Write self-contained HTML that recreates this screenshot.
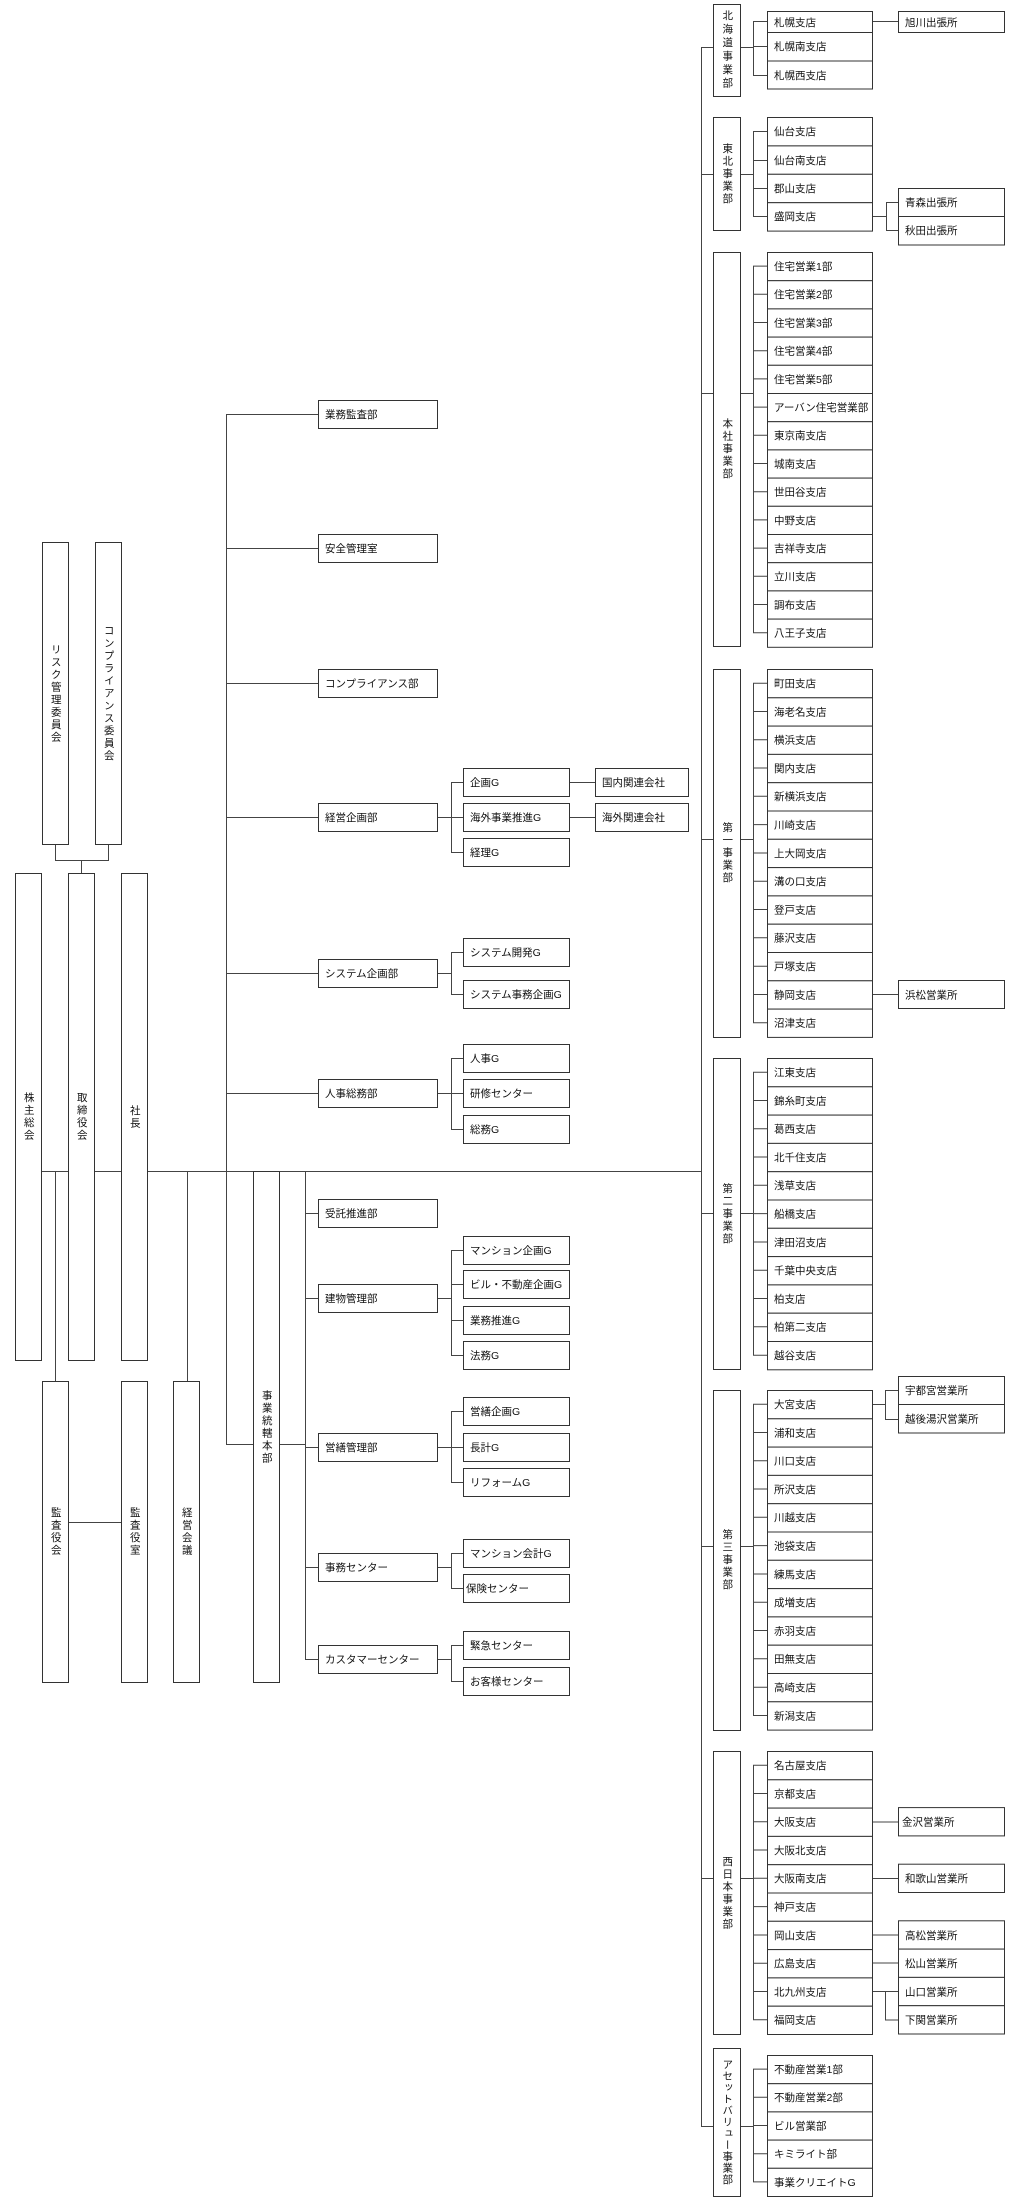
<!DOCTYPE html>
<html><head><meta charset="utf-8"><style>
html,body{margin:0;padding:0;background:#fff;}
#w{position:relative;width:1023px;height:2200px;overflow:hidden;font-family:"Liberation Sans","Noto Sans CJK JP",sans-serif;}
svg{position:absolute;left:0;top:0;}
svg text{font-family:"Liberation Sans","Noto Sans CJK JP",sans-serif;font-size:10.5px;fill:#111;}
.v{position:absolute;display:flex;align-items:center;justify-content:center;font-size:10.5px;color:#111;}
.v span{writing-mode:vertical-rl;text-orientation:upright;letter-spacing:2px;line-height:1;}
</style></head><body><div id="w">
<svg width="1023" height="2200" viewBox="0 0 1023 2200">
<g stroke="#444" stroke-width="1" fill="none">
<path d="M55.5 845V860.5H108.5V845M81.5 860V873"/>
<path d="M42 1171.5H701"/>
<path d="M55.5 1171V1381M187.5 1171V1381M68 1522.5H121"/>
<path d="M226.5 414V1444.5H253M279 1444.5H305"/>
<path d="M226 414.5H318M226 548.5H318M226 683.5H318M226 817.5H318M226 973.5H318M226 1093.5H318"/>
<path d="M437 817.5H451.5M451.5 782V852M451 782.5H463M451 817.5H463M451 852.5H463M569 782.5H595M569 817.5H595"/>
<path d="M437 973.5H451.5M451.5 952V994M451 952.5H463M451 994.5H463"/>
<path d="M437 1093.5H451.5M451.5 1058V1129M451 1058.5H463M451 1093.5H463M451 1129.5H463"/>
<path d="M305.5 1171V1659M305 1213.5H318M305 1298.5H318M305 1447.5H318M305 1567.5H318M305 1659.5H318"/>
<path d="M437 1298.5H451.5M451.5 1250V1355M451 1250.5H463M451 1284.5H463M451 1320.5H463M451 1355.5H463"/>
<path d="M437 1447.5H451.5M451.5 1411V1482M451 1411.5H463M451 1447.5H463M451 1482.5H463"/>
<path d="M437 1567.5H451.5M451.5 1553V1588M451 1553.5H463M451 1588.5H463"/>
<path d="M437 1659.5H451.5M451.5 1645V1681M451 1645.5H463M451 1681.5H463"/>
<path d="M701.5 47V2126"/>
<path d="M701 47.5H713M701 174.5H713M701 393.5H713M701 839.5H713M701 1213.5H713M701 1546.5H713M701 1878.5H713M701 2126.5H713"/>
<path d="M740 47.5H753M740 174.5H753M740 393.5H753M740 839.5H753M740 1213.5H753M740 1546.5H753M740 1878.5H753M740 2126.5H753"/>
<path d="M753.5 21V75M753 21.5H767M753 46.5H767M753 75.5H767M872 21.5H898"/>
<path d="M753.5 131V216M753 131.5H767M753 160.5H767M753 188.5H767M753 216.5H767M872 216.5H886.5M886.5 202V231M886 202.5H898M886 230.5H898"/>
<path d="M753.5 266V633"/>
<path d="M753.5 683V1023"/>
<path d="M753.5 1072V1355"/>
<path d="M753.5 1404V1715"/>
<path d="M753.5 1765V2020"/>
<path d="M753.5 2069V2182"/>
<path d="M872 994.5H898"/>
<path d="M872 1404.5H885.5M885.5 1390V1419M885 1390.5H898M885 1419.5H898"/>
<path d="M872 1822H898M872 1878.5H898M872 1935H898M872 1963H898M872 1991.5H898M885.5 1991V2020M885 2020H898"/>
</g>
<g stroke="#444" stroke-width="1">
<path d="M753 266.1H767M753 294.3H767M753 322.5H767M753 350.7H767M753 378.9H767M753 407.1H767M753 435.3H767M753 463.5H767M753 491.7H767M753 519.9H767M753 548.1H767M753 576.3H767M753 604.5H767M753 632.7H767"/>
<path d="M753 683.2H767M753 711.5H767M753 739.8H767M753 768H767M753 796.3H767M753 824.6H767M753 853H767M753 881.2H767M753 909.5H767M753 937.8H767M753 966.2H767M753 994.5H767M753 1022.8H767"/>
<path d="M753 1072.2H767M753 1100.5H767M753 1128.8H767M753 1157H767M753 1185.3H767M753 1213.6H767M753 1242H767M753 1270.2H767M753 1298.5H767M753 1326.8H767M753 1355.2H767"/>
<path d="M753 1404.2H767M753 1432.5H767M753 1460.8H767M753 1489H767M753 1517.3H767M753 1545.6H767M753 1574H767M753 1602.2H767M753 1630.5H767M753 1658.8H767M753 1687.2H767M753 1715.5H767"/>
<path d="M753 1765.2H767M753 1793.5H767M753 1821.8H767M753 1850H767M753 1878.3H767M753 1906.6H767M753 1935H767M753 1963.2H767M753 1991.5H767M753 2019.8H767"/>
<path d="M753 2069.1H767M753 2097.3H767M753 2125.5H767M753 2153.7H767M753 2181.9H767"/>
</g>
<g fill="#fff" stroke="#333" stroke-width="1">
<rect x="42.5" y="542.5" width="26" height="302"/>
<rect x="95.5" y="542.5" width="26" height="302"/>
<rect x="15.5" y="873.5" width="26" height="487"/>
<rect x="68.5" y="873.5" width="26" height="487"/>
<rect x="121.5" y="873.5" width="26" height="487"/>
<rect x="42.5" y="1381.5" width="26" height="301"/>
<rect x="121.5" y="1381.5" width="26" height="301"/>
<rect x="173.5" y="1381.5" width="26" height="301"/>
<rect x="253.5" y="1171.5" width="26" height="511"/>
<rect x="318.5" y="400.5" width="119" height="28"/>
<rect x="318.5" y="534.5" width="119" height="28"/>
<rect x="318.5" y="669.5" width="119" height="28"/>
<rect x="318.5" y="803.5" width="119" height="28"/>
<rect x="318.5" y="959.5" width="119" height="28"/>
<rect x="318.5" y="1079.5" width="119" height="28"/>
<rect x="318.5" y="1199.5" width="119" height="28"/>
<rect x="318.5" y="1284.5" width="119" height="28"/>
<rect x="318.5" y="1433.5" width="119" height="28"/>
<rect x="318.5" y="1553.5" width="119" height="28"/>
<rect x="318.5" y="1645.5" width="119" height="28"/>
<rect x="463.5" y="768.5" width="106" height="28"/>
<rect x="463.5" y="803.5" width="106" height="28"/>
<rect x="463.5" y="838.5" width="106" height="28"/>
<rect x="595.5" y="768.5" width="93" height="28"/>
<rect x="595.5" y="803.5" width="93" height="28"/>
<rect x="463.5" y="938.5" width="106" height="28"/>
<rect x="463.5" y="980.5" width="106" height="28"/>
<rect x="463.5" y="1044.5" width="106" height="28"/>
<rect x="463.5" y="1079.5" width="106" height="28"/>
<rect x="463.5" y="1115.5" width="106" height="28"/>
<rect x="463.5" y="1236.5" width="106" height="28"/>
<rect x="463.5" y="1270.5" width="106" height="28"/>
<rect x="463.5" y="1306.5" width="106" height="28"/>
<rect x="463.5" y="1341.5" width="106" height="28"/>
<rect x="463.5" y="1397.5" width="106" height="28"/>
<rect x="463.5" y="1433.5" width="106" height="28"/>
<rect x="463.5" y="1468.5" width="106" height="28"/>
<rect x="463.5" y="1539.5" width="106" height="28"/>
<rect x="463.5" y="1574.5" width="106" height="28"/>
<rect x="463.5" y="1631.5" width="106" height="28"/>
<rect x="463.5" y="1667.5" width="106" height="28"/>
<rect x="713.5" y="4.5" width="27" height="92"/>
<rect x="713.5" y="117.5" width="27" height="113"/>
<rect x="713.5" y="252.5" width="27" height="394"/>
<rect x="713.5" y="669.5" width="27" height="368"/>
<rect x="713.5" y="1058.5" width="27" height="311"/>
<rect x="713.5" y="1390.5" width="27" height="340"/>
<rect x="713.5" y="1751.5" width="27" height="283"/>
<rect x="713.5" y="2048.5" width="27" height="148"/>
<rect x="767.5" y="11.5" width="105" height="21"/>
<rect x="767.5" y="32.5" width="105" height="28.5"/>
<rect x="767.5" y="61" width="105" height="28"/>
<rect x="767.5" y="117.5" width="105" height="28.4"/>
<rect x="767.5" y="145.9" width="105" height="28.4"/>
<rect x="767.5" y="174.3" width="105" height="28.4"/>
<rect x="767.5" y="202.7" width="105" height="28.4"/>
<rect x="898.5" y="11.5" width="106" height="21"/>
<rect x="898.5" y="188.5" width="106" height="28"/>
<rect x="898.5" y="216.5" width="106" height="28.5"/>
<rect x="898.5" y="980.5" width="106" height="28"/>
<rect x="898.5" y="1376.5" width="106" height="28"/>
<rect x="898.5" y="1404.5" width="106" height="28.5"/>
<rect x="898.5" y="1807.6" width="106" height="28.3"/>
<rect x="898.5" y="1864.2" width="106" height="28.3"/>
<rect x="898.5" y="1920.8" width="106" height="28.3"/>
<rect x="898.5" y="1949.1" width="106" height="28.3"/>
<rect x="898.5" y="1977.4" width="106" height="28.3"/>
<rect x="898.5" y="2005.7" width="106" height="28.3"/>
</g>
<g fill="#fff" stroke="#333" stroke-width="1">
<g transform="translate(767.5,252.5)"><rect width="105" height="28.2"/><rect y="28.2" width="105" height="28.2"/><rect y="56.4" width="105" height="28.2"/><rect y="84.6" width="105" height="28.2"/><rect y="112.8" width="105" height="28.2"/><rect y="141" width="105" height="28.2"/><rect y="169.2" width="105" height="28.2"/><rect y="197.4" width="105" height="28.2"/><rect y="225.6" width="105" height="28.2"/><rect y="253.8" width="105" height="28.2"/><rect y="282" width="105" height="28.2"/><rect y="310.2" width="105" height="28.2"/><rect y="338.4" width="105" height="28.2"/><rect y="366.6" width="105" height="28.2"/></g>
<g transform="translate(767.5,669.5)"><rect width="105" height="28.3"/><rect y="28.3" width="105" height="28.3"/><rect y="56.6" width="105" height="28.3"/><rect y="84.9" width="105" height="28.3"/><rect y="113.2" width="105" height="28.3"/><rect y="141.5" width="105" height="28.3"/><rect y="169.8" width="105" height="28.3"/><rect y="198.1" width="105" height="28.3"/><rect y="226.4" width="105" height="28.3"/><rect y="254.7" width="105" height="28.3"/><rect y="283" width="105" height="28.3"/><rect y="311.3" width="105" height="28.3"/><rect y="339.6" width="105" height="28.3"/></g>
<g transform="translate(767.5,1058.5)"><rect width="105" height="28.3"/><rect y="28.3" width="105" height="28.3"/><rect y="56.6" width="105" height="28.3"/><rect y="84.9" width="105" height="28.3"/><rect y="113.2" width="105" height="28.3"/><rect y="141.5" width="105" height="28.3"/><rect y="169.8" width="105" height="28.3"/><rect y="198.1" width="105" height="28.3"/><rect y="226.4" width="105" height="28.3"/><rect y="254.7" width="105" height="28.3"/><rect y="283" width="105" height="28.3"/></g>
<g transform="translate(767.5,1390.5)"><rect width="105" height="28.3"/><rect y="28.3" width="105" height="28.3"/><rect y="56.6" width="105" height="28.3"/><rect y="84.9" width="105" height="28.3"/><rect y="113.2" width="105" height="28.3"/><rect y="141.5" width="105" height="28.3"/><rect y="169.8" width="105" height="28.3"/><rect y="198.1" width="105" height="28.3"/><rect y="226.4" width="105" height="28.3"/><rect y="254.7" width="105" height="28.3"/><rect y="283" width="105" height="28.3"/><rect y="311.3" width="105" height="28.3"/></g>
<g transform="translate(767.5,1751.5)"><rect width="105" height="28.3"/><rect y="28.3" width="105" height="28.3"/><rect y="56.6" width="105" height="28.3"/><rect y="84.9" width="105" height="28.3"/><rect y="113.2" width="105" height="28.3"/><rect y="141.5" width="105" height="28.3"/><rect y="169.8" width="105" height="28.3"/><rect y="198.1" width="105" height="28.3"/><rect y="226.4" width="105" height="28.3"/><rect y="254.7" width="105" height="28.3"/></g>
<g transform="translate(767.5,2055.5)"><rect width="105" height="28.2"/><rect y="28.2" width="105" height="28.2"/><rect y="56.4" width="105" height="28.2"/><rect y="84.6" width="105" height="28.2"/><rect y="112.8" width="105" height="28.2"/></g>
</g>
<g>
<text x="325" y="418">業務監査部</text>
<text x="325" y="552">安全管理室</text>
<text x="325" y="687">コンプライアンス部</text>
<text x="325" y="821">経営企画部</text>
<text x="325" y="977">システム企画部</text>
<text x="325" y="1097">人事総務部</text>
<text x="325" y="1217">受託推進部</text>
<text x="325" y="1302">建物管理部</text>
<text x="325" y="1451">営繕管理部</text>
<text x="325" y="1571">事務センター</text>
<text x="325" y="1663">カスタマーセンター</text>
<text x="470" y="786">企画G</text>
<text x="470" y="821">海外事業推進G</text>
<text x="470" y="856">経理G</text>
<text x="602" y="786">国内関連会社</text>
<text x="602" y="821">海外関連会社</text>
<text x="470" y="956">システム開発G</text>
<text x="470" y="998">システム事務企画G</text>
<text x="470" y="1062">人事G</text>
<text x="470" y="1097">研修センター</text>
<text x="470" y="1133">総務G</text>
<text x="470" y="1254">マンション企画G</text>
<text x="470" y="1288">ビル・不動産企画G</text>
<text x="470" y="1324">業務推進G</text>
<text x="470" y="1359">法務G</text>
<text x="470" y="1415">営繕企画G</text>
<text x="470" y="1451">長計G</text>
<text x="470" y="1486">リフォームG</text>
<text x="470" y="1557">マンション会計G</text>
<text x="466" y="1592">保険センター</text>
<text x="470" y="1649">緊急センター</text>
<text x="470" y="1685">お客様センター</text>
<text x="774" y="26">札幌支店</text>
<text x="774" y="50">札幌南支店</text>
<text x="774" y="79">札幌西支店</text>
<text x="905" y="26">旭川出張所</text>
<text x="774" y="135">仙台支店</text>
<text x="774" y="164">仙台南支店</text>
<text x="774" y="192">郡山支店</text>
<text x="774" y="220">盛岡支店</text>
<text x="905" y="206">青森出張所</text>
<text x="905" y="234">秋田出張所</text>
</g>
<g transform="translate(774,270)">
<text y="0">住宅営業1部</text><text y="28.2">住宅営業2部</text><text y="56.4">住宅営業3部</text><text y="84.6">住宅営業4部</text><text y="112.8">住宅営業5部</text><text y="141">アーバン住宅営業部</text><text y="169.2">東京南支店</text><text y="197.4">城南支店</text><text y="225.6">世田谷支店</text><text y="253.8">中野支店</text><text y="282">吉祥寺支店</text><text y="310.2">立川支店</text><text y="338.4">調布支店</text><text y="366.6">八王子支店</text>
</g>
<g transform="translate(774,687)">
<text y="0">町田支店</text><text y="28.3">海老名支店</text><text y="56.6">横浜支店</text><text y="84.9">関内支店</text><text y="113.2">新横浜支店</text><text y="141.5">川崎支店</text><text y="169.8">上大岡支店</text><text y="198.1">溝の口支店</text><text y="226.4">登戸支店</text><text y="254.7">藤沢支店</text><text y="283">戸塚支店</text><text y="311.3">静岡支店</text><text y="339.6">沼津支店</text>
<text x="131" y="311.3">浜松営業所</text>
</g>
<g transform="translate(774,1076)">
<text y="0">江東支店</text><text y="28.3">錦糸町支店</text><text y="56.6">葛西支店</text><text y="84.9">北千住支店</text><text y="113.2">浅草支店</text><text y="141.5">船橋支店</text><text y="169.8">津田沼支店</text><text y="198.1">千葉中央支店</text><text y="226.4">柏支店</text><text y="254.7">柏第二支店</text><text y="283">越谷支店</text>
</g>
<g transform="translate(774,1408)">
<text y="0">大宮支店</text><text y="28.3">浦和支店</text><text y="56.6">川口支店</text><text y="84.9">所沢支店</text><text y="113.2">川越支店</text><text y="141.5">池袋支店</text><text y="169.8">練馬支店</text><text y="198.1">成増支店</text><text y="226.4">赤羽支店</text><text y="254.7">田無支店</text><text y="283">高崎支店</text><text y="311.3">新潟支店</text>
<text x="131" y="-14">宇都宮営業所</text><text x="131" y="14.5">越後湯沢営業所</text>
</g>
<g transform="translate(774,1769)">
<text y="0">名古屋支店</text><text y="28.3">京都支店</text><text y="56.6">大阪支店</text><text y="84.9">大阪北支店</text><text y="113.2">大阪南支店</text><text y="141.5">神戸支店</text><text y="169.8">岡山支店</text><text y="198.1">広島支店</text><text y="226.4">北九州支店</text><text y="254.7">福岡支店</text>
<text x="128" y="56.6">金沢営業所</text><text x="131" y="113.2">和歌山営業所</text><text x="131" y="169.8">高松営業所</text><text x="131" y="198.1">松山営業所</text><text x="131" y="226.4">山口営業所</text><text x="131" y="254.7">下関営業所</text>
</g>
<g transform="translate(774,2073)">
<text y="0">不動産営業1部</text><text y="28.2">不動産営業2部</text><text y="56.4">ビル営業部</text><text y="84.6">キミライト部</text><text y="112.8">事業クリエイトG</text>
</g>
</svg>
<div class="v" style="left:42px;top:542px;width:27px;height:303px"><span>リスク管理委員会</span></div>
<div class="v" style="left:95px;top:542px;width:27px;height:303px"><span>コンプライアンス委員会</span></div>
<div class="v" style="left:15px;top:873px;width:27px;height:488px"><span>株主総会</span></div>
<div class="v" style="left:68px;top:873px;width:27px;height:488px"><span>取締役会</span></div>
<div class="v" style="left:121px;top:873px;width:27px;height:488px"><span>社長</span></div>
<div class="v" style="left:42px;top:1381px;width:27px;height:302px"><span>監査役会</span></div>
<div class="v" style="left:121px;top:1381px;width:27px;height:302px"><span>監査役室</span></div>
<div class="v" style="left:173px;top:1381px;width:27px;height:302px"><span>経営会議</span></div>
<div class="v" style="left:253px;top:1171px;width:27px;height:512px"><span>事業統轄本部</span></div>
<div class="v" style="left:713px;top:4px;width:28px;height:93px"><span style="letter-spacing:3px">北海道事業部</span></div>
<div class="v" style="left:713px;top:117px;width:28px;height:114px"><span>東北事業部</span></div>
<div class="v" style="left:713px;top:252px;width:28px;height:395px"><span>本社事業部</span></div>
<div class="v" style="left:713px;top:669px;width:28px;height:369px"><span>第一事業部</span></div>
<div class="v" style="left:713px;top:1058px;width:28px;height:312px"><span>第二事業部</span></div>
<div class="v" style="left:713px;top:1390px;width:28px;height:341px"><span>第三事業部</span></div>
<div class="v" style="left:713px;top:1751px;width:28px;height:284px"><span>西日本事業部</span></div>
<div class="v" style="left:713px;top:2048px;width:28px;height:149px"><span style="letter-spacing:1px">アセットバリュー事業部</span></div>
</div></body></html>
